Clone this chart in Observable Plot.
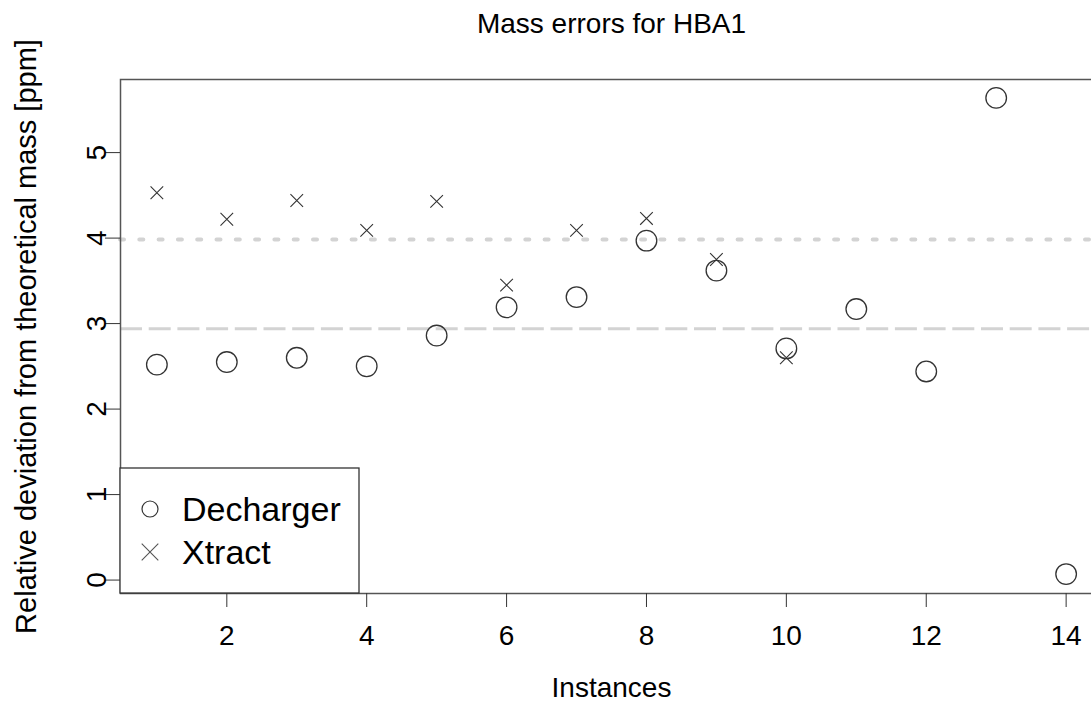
<!DOCTYPE html>
<html>
<head>
<meta charset="utf-8">
<script src="https://cdn.jsdelivr.net/npm/d3@7"></script>
<script src="https://cdn.jsdelivr.net/npm/@observablehq/plot@0.6"></script>
<style>
  html, body { margin: 0; padding: 0; background: #fff; overflow: hidden; }
  #chart { width: 1091px; height: 704px; overflow: hidden; }
  #chart svg { max-width: none !important; font-family: "Liberation Sans", Arial, sans-serif; }
</style>
</head>
<body>
<div id="chart"></div>
<script>
// Instances of HBA1 and the relative mass deviation (ppm) per deconvolution tool
const instances = [1, 2, 3, 4, 5, 6, 7, 8, 9, 10, 11, 12, 13, 14];
const decharger = [2.52, 2.55, 2.60, 2.50, 2.86, 3.19, 3.31, 3.97, 3.62, 2.71, 3.17, 2.44, 5.64, 0.07];
const xtract    = [4.53, 4.22, 4.44, 4.09, 4.43, 3.45, 4.09, 4.23, 3.75, 2.60, null, null, null, null];

const xTicks = [2, 4, 6, 8, 10, 12, 14];
const yTicks = [0, 1, 2, 3, 4, 5];

const titleText = "Mass errors for HBA1";
const xLabel = "Instances";
const yLabel = "Relative deviation from theoretical mass [ppm]";
const seriesNames = ["Decharger", "Xtract"];

const dechargerRows = instances.map((x, i) => ({x, y: decharger[i]}));
const xtractRows = instances.map((x, i) => ({x, y: xtract[i]})).filter(d => d.y != null);

// mean deviation of each tool, drawn as horizontal guides
const dechargerMean = d3.mean(decharger);
const xtractMean = d3.mean(xtract.filter(v => v != null));

const FONT = 28;

const svg = Plot.plot({
  width: 1110,
  height: 704,
  marginLeft: 120,
  marginRight: 8,
  marginTop: 79,
  marginBottom: 111,
  style: {fontFamily: '"Liberation Sans", Arial, sans-serif', background: "#fff", color: "#000", maxWidth: "none"},
  x: {domain: [0.48, 14.52], label: null},
  y: {domain: [-0.157, 5.855], label: null},
  marks: [
    Plot.ruleY([xtractMean], {stroke: "#d3d3d3", strokeWidth: 4, strokeDasharray: "4,15.3", strokeLinecap: "round"}),
    Plot.ruleY([dechargerMean], {stroke: "#d3d3d3", strokeWidth: 3, strokeDasharray: "22,6.7"}),
    Plot.dot(dechargerRows, {x: "x", y: "y", r: 10.3, symbol: "circle", stroke: "#333", strokeWidth: 1.3, fill: "none"}),
    Plot.dot(xtractRows, {x: "x", y: "y", r: 5.8, symbol: "times", stroke: "#333", strokeWidth: 1.1}),
    Plot.frame({stroke: "#555", strokeWidth: 1.5}),
    Plot.axisX(xTicks, {tickSize: 14, tickPadding: 18, fontSize: FONT, stroke: "#333", label: null}),
    Plot.axisY(yTicks, {tickSize: 15, tickFormat: () => "", stroke: "#333", label: null}),
    Plot.text(yTicks, {y: d => d, text: d => String(d), frameAnchor: "left", dx: -23, rotate: -90,
      textAnchor: "middle", lineAnchor: "middle", fontSize: FONT, fill: "#000"}),
    Plot.text([yLabel], {frameAnchor: "left", dx: -94, rotate: -90, textAnchor: "middle",
      lineAnchor: "middle", fontSize: 29, fill: "#000"}),
    Plot.text([xLabel], {frameAnchor: "bottom", dy: 84, lineAnchor: "top", fontSize: FONT, fill: "#000"}),
    Plot.text([titleText], {frameAnchor: "top", dy: -55, lineAnchor: "middle", fontSize: FONT, fill: "#000"})
  ]
});

// legend box in the bottom-left corner of the panel
const xs = svg.scale("x"), ys = svg.scale("y");
const left = xs.apply(xs.domain[0]);
const bottom = ys.apply(ys.domain[0]);
const boxW = 239, boxH = 125;
const g = d3.select(svg).append("g").attr("text-anchor", "start");
g.append("rect")
  .attr("x", left).attr("y", bottom - boxH)
  .attr("width", boxW).attr("height", boxH)
  .attr("fill", "#fff").attr("stroke", "#333").attr("stroke-width", 1.3);
const row1 = bottom - 84, row2 = bottom - 41;
g.append("circle").attr("cx", left + 30).attr("cy", row1).attr("r", 8)
  .attr("fill", "none").attr("stroke", "#333").attr("stroke-width", 1.2);
const h = 8.3;
g.append("path")
  .attr("d", `M${left + 30 - h},${row2 - h}L${left + 30 + h},${row2 + h}M${left + 30 - h},${row2 + h}L${left + 30 + h},${row2 - h}`)
  .attr("stroke", "#555").attr("stroke-width", 1.1).attr("fill", "none");
seriesNames.forEach((name, i) => {
  g.append("text")
    .attr("x", left + 62).attr("y", (i === 0 ? row1 : row2) + 12)
    .attr("text-anchor", "start")
    .attr("font-size", 34).attr("fill", "#000")
    .text(name);
});

document.getElementById("chart").appendChild(svg);
</script>
</body>
</html>
